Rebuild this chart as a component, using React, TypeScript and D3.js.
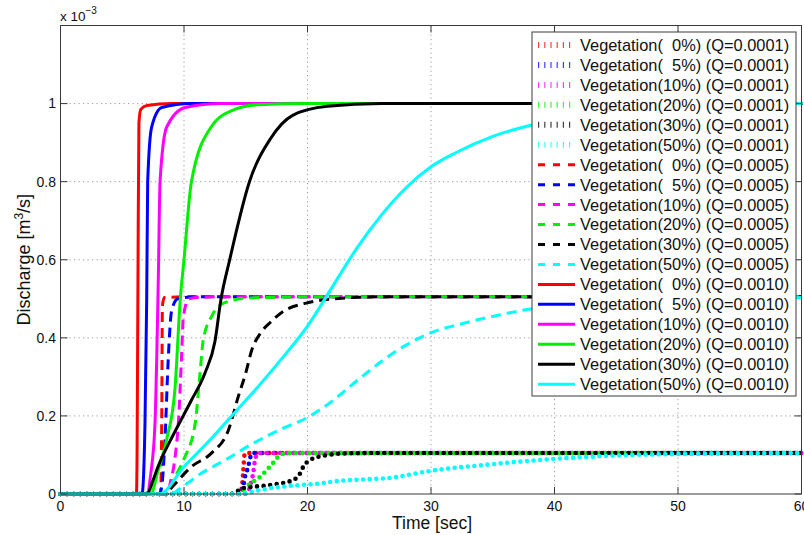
import React from "react";
import * as d3 from "d3";

// ---- data (discharge in units of 1e-3 m^3/s, time in seconds) ----
const vegetationLabels = ["  0%", "  5%", "10%", "20%", "30%", "50%"];
const flowRates = ["0.0001", "0.0005", "0.0010"];
const xTicks = [0, 10, 20, 30, 40, 50, 60];
const yTicks = [0, 0.2, 0.4, 0.6, 0.8, 1];
const yTickLabels = ["0", "0.2", "0.4", "0.6", "0.8", "1"];

// Q = 0.0001
const dotV0 = [[0,0],[14.5,0],[14.7,0.02],[14.8,0.06],[14.9,0.1],[15.1,0.105],[60,0.105]];
const dotV5 = [[0,0],[14.5,0],[14.8,0.02],[14.94,0.044],[15.2,0.07],[15.35,0.092],[15.6,0.105],[60,0.105]];
const dotV10 = [[0,0],[14.8,0],[15.2,0.005],[15.35,0.02],[15.6,0.053],[15.75,0.087],[16.0,0.105],[60,0.105]];
const dotV20 = [[0,0],[14.2,0],[14.6,0.006],[15.3,0.025],[16.15,0.044],[17.2,0.079],[17.8,0.1],[18.5,0.105],[60,0.105]];
const dotV30 = [[0,0],[13.8,0],[14.2,0.005],[14.8,0.015],[17.0,0.023],[18.85,0.036],[19.4,0.053],[19.66,0.07],[20.2,0.087],[21.3,0.098],[23.2,0.104],[26,0.105],[60,0.105]];
const dotV50 = [[0,0],[14.5,0],[15.1,0.003],[17,0.015],[19,0.022],[21,0.027],[22.1,0.032],[25,0.038],[26.9,0.042],[28,0.048],[29.9,0.059],[34.2,0.074],[39.6,0.089],[46.4,0.1],[52,0.103],[60,0.105]];

// Q = 0.0005
const dashV0 = [[0,0],[8.1,0],[8.2,0.2],[8.25,0.48],[8.4,0.503],[10,0.505],[60,0.505]];
const dashV5 = [[0,0],[8.0,0],[8.2,0.02],[8.46,0.14],[8.73,0.35],[9.0,0.47],[9.5,0.5],[11,0.505],[60,0.505]];
const dashV10 = [[0,0],[8.6,0],[8.9,0.03],[9.3,0.1],[9.54,0.18],[9.8,0.35],[9.95,0.455],[10.4,0.5],[12,0.505],[60,0.505]];
const dashV20 = [[0,0],[8.5,0],[9.27,0.044],[10.0,0.09],[10.9,0.18],[11.3,0.31],[11.56,0.395],[12.24,0.455],[13.3,0.49],[15.2,0.502],[20,0.505],[60,0.505]];
const dashV30 = [[0,0],[8.5,0],[9.1,0.02],[10.6,0.07],[12.2,0.104],[13.6,0.164],[14.4,0.25],[15.0,0.31],[15.5,0.37],[16.15,0.41],[17,0.44],[18,0.467],[19.9,0.489],[22.1,0.5],[26,0.505],[60,0.505]];
const dashV50 = [[0,0],[9.0,0],[9.5,0.01],[11.4,0.053],[13.5,0.09],[15.5,0.128],[18,0.168],[20,0.196],[22,0.238],[24,0.29],[26,0.34],[28,0.382],[30,0.413],[32.6,0.437],[35.6,0.459],[37.7,0.472],[45,0.49],[52,0.498],[60,0.503]];

// Q = 0.0010
const solV0 = [[0,0],[6.15,0],[6.2,0.1],[6.28,0.6],[6.35,0.95],[6.5,0.985],[7,0.995],[9,1.0],[60,1.0]];
const solV5 = [[0,0],[6.6,0],[6.7,0.03],[6.84,0.18],[6.98,0.5],[7.06,0.8],[7.38,0.94],[8.2,0.99],[10.6,1.0],[60,1.0]];
const solV10 = [[0,0],[7.0,0],[7.3,0.05],[7.65,0.18],[7.92,0.55],[8.06,0.8],[8.6,0.94],[10.1,0.99],[13,1.0],[60,1.0]];
const solV20 = [[0,0],[7.3,0],[7.9,0.06],[8.6,0.14],[9.27,0.27],[9.7,0.5],[10.0,0.6],[10.6,0.8],[12.2,0.94],[14.1,0.985],[16,0.997],[20,1.0],[60,1.0]];
const solV30 = [[0,0],[7.0,0],[7.5,0.036],[7.9,0.07],[9.27,0.16],[10.6,0.24],[11.7,0.31],[12.5,0.39],[13.0,0.5],[13.7,0.6],[15.3,0.8],[17.0,0.91],[18.8,0.97],[21.6,0.993],[26,1.0],[60,1.0]];
const solV50 = [[0,0],[8,0],[10,0.07],[12,0.135],[14,0.205],[16,0.275],[18,0.35],[20,0.43],[22,0.53],[24,0.63],[26,0.715],[28,0.785],[30,0.838],[32,0.874],[35,0.916],[38,0.944],[42,0.967],[46,0.982],[52,0.994],[60,1.0]];

const seriesByFlow = [
  [dotV0, dotV5, dotV10, dotV20, dotV30, dotV50],
  [dashV0, dashV5, dashV10, dashV20, dashV30, dashV50],
  [solV0, solV5, solV10, solV20, solV30, solV50],
];

// ---- styles ----
const colors = ["#ff0000", "#0000ff", "#ff00ff", "#00f000", "#000000", "#00ffff"];
const FONT = "'Liberation Sans', Arial, Helvetica, sans-serif";

const W = 804, H = 535;
const L = 60.5, R = 801.5, T = 25.5, B = 494;

export default function App() {
  const x = d3.scaleLinear().domain([0, 60]).range([L, R]);
  const y = d3.scaleLinear().domain([0, 1.2]).range([B, T]);
  const line = d3.line<number[]>().x(d => x(d[0])).y(d => y(d[1])).curve(d3.curveMonotoneX);

  const series: any[] = [];
  flowRates.forEach((q, qi) => {
    vegetationLabels.forEach((v, vi) => {
      series.push({ data: seriesByFlow[qi][vi], color: colors[vi], style: qi, label: `Vegetation(${v}) (Q=${q})` });
    });
  });

  const styleProps = (s: number) =>
    s === 0
      ? { strokeWidth: 4.6, strokeDasharray: "0 6.6", strokeLinecap: "round" as const }
      : s === 1
      ? { strokeWidth: 3, strokeDasharray: "10 6", strokeLinecap: "butt" as const }
      : { strokeWidth: 3, strokeLinecap: "round" as const };

  const legendStyle = (s: number) =>
    s === 0
      ? { strokeWidth: 6, strokeDasharray: "1.2 5", opacity: 0.75 }
      : s === 1
      ? { strokeWidth: 3, strokeDasharray: "7 8" }
      : { strokeWidth: 3 };

  const tickLen = 7;
  const axisColor = "#3a3a3a";
  const gridColor = "#9a9a9a";

  return (
    <div style={{ position: "absolute", left: 0, top: 0 }}>
      <svg width={W} height={H} style={{ display: "block", background: "#fff" }} fontFamily={FONT}>
        <rect x={0} y={0} width={W} height={H} fill="#fff" />
        {/* grid */}
        {xTicks.filter(t => t > 0 && t < 60).map(t => (
          <line key={"gx" + t} x1={x(t)} x2={x(t)} y1={T} y2={B} stroke={gridColor} strokeWidth={1} strokeDasharray="1.2 3.3" />
        ))}
        {yTicks.filter(t => t > 0).map(t => (
          <line key={"gy" + t} x1={L} x2={R} y1={y(t)} y2={y(t)} stroke={gridColor} strokeWidth={1} strokeDasharray="1.2 3.3" />
        ))}
        {/* series */}
        <g fill="none">
          {series.map((s, i) => (
            <path key={i} d={line(s.data) || ""} stroke={s.color} {...styleProps(s.style)} strokeLinejoin="round" />
          ))}
        </g>
        {/* axes box */}
        <rect x={L} y={T} width={R - L} height={B - T} fill="none" stroke={axisColor} strokeWidth={1} />
        {xTicks.map(t => (
          <g key={"tx" + t}>
            <line x1={x(t)} x2={x(t)} y1={B} y2={B - tickLen} stroke={axisColor} />
            <line x1={x(t)} x2={x(t)} y1={T} y2={T + tickLen} stroke={axisColor} />
            <text x={x(t)} y={511} fontSize={14} textAnchor="middle" fill="#111">{t}</text>
          </g>
        ))}
        {yTicks.map((t, i) => (
          <g key={"ty" + t}>
            <line x1={L} x2={L + tickLen} y1={y(t)} y2={y(t)} stroke={axisColor} />
            <line x1={R} x2={R - tickLen} y1={y(t)} y2={y(t)} stroke={axisColor} />
            <text x={56} y={y(t)} dy="0.35em" fontSize={14} textAnchor="end" fill="#111">{yTickLabels[i]}</text>
          </g>
        ))}
        {/* exponent */}
        <text x={60} y={21} fontSize={13.5} fill="#111">x 10<tspan dy={-7} fontSize={10}>−3</tspan></text>
        {/* axis labels */}
        <text x={(L + R) / 2 + 1} y={529} fontSize={17.5} textAnchor="middle" fill="#111">Time [sec]</text>
        <text transform={`translate(30,${(T + B) / 2}) rotate(-90)`} fontSize={18} textAnchor="middle" fill="#111">
          Discharge [m<tspan dy={-7} fontSize={12}>3</tspan><tspan dy={7}>/s]</tspan>
        </text>
        {/* legend */}
        <rect x={532} y={32} width={264} height={364} fill="#fff" stroke={axisColor} strokeWidth={1} />
        {series.map((s, i) => {
          const yy = 45 + i * 19.95;
          return (
            <g key={"lg" + i}>
              <line x1={538} x2={575} y1={yy} y2={yy} stroke={s.color} {...legendStyle(s.style)} />
              <text x={580} y={yy} dy="0.36em" fontSize={16.4} fill="#111" style={{ whiteSpace: "pre" }}>{s.label}</text>
            </g>
          );
        })}
      </svg>
    </div>
  );
}
